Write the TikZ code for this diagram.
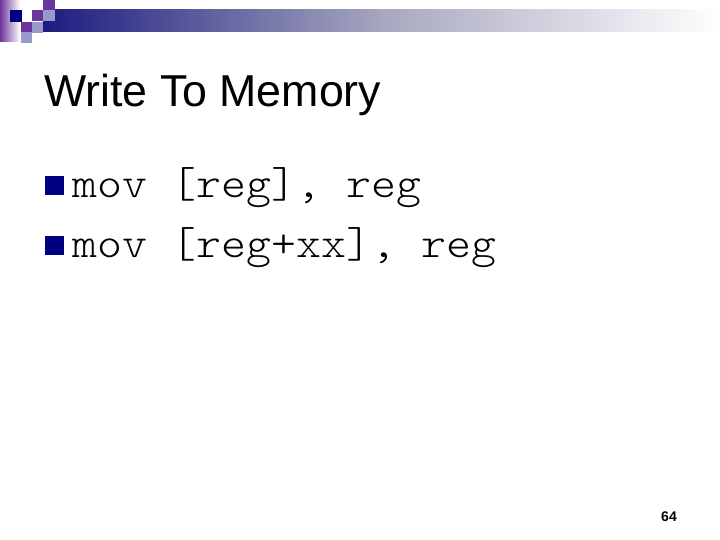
\documentclass[tikz,border=0pt]{standalone}
\usepackage{fontspec}
\setmainfont{Liberation Sans}
\newfontfamily\monof[FakeStretch=1.105]{Latin Modern Mono Light}
\definecolor{navy}{HTML}{000080}
\definecolor{barnavy}{HTML}{1C1C80}
\definecolor{purp}{HTML}{6A359C}
\definecolor{lav}{HTML}{9999CC}
\tikzset{
  x=1pt,y=-1pt,
  sq/.style={draw=none,inner sep=0pt,outer sep=0pt,minimum size=11pt,anchor=north west},
  titletext/.style={anchor=base west,inner sep=0pt,font=\fontsize{44.7}{44.7}\selectfont},
  codetext/.style={anchor=base west,inner sep=0pt,font=\fontsize{43}{43}\selectfont\monof},
  bullet/.style={fill=navy,inner sep=0pt,minimum size=18.5pt,anchor=north west},
  pagenum/.style={anchor=base,inner sep=0pt,font=\fontsize{14}{14}\selectfont\bfseries}
}
\begin{document}
\begin{tikzpicture}
\useasboundingbox (0,0) rectangle (720,540);
\fill[white] (0,0) rectangle (720,540);
\shade[left color=purp,right color=white] (0,0) rectangle (20,42);
\shade[left color=barnavy,right color=white,middle color=barnavy!50!gray!50!white] (43,10) rectangle (720,32);
\node[sq,fill=navy,minimum size=12pt] (s1) at (10,10) {};
\node[sq,fill=purp,minimum width=12pt,minimum height=10pt] (s2) at (43,0) {};
\node[sq,fill=lav,minimum width=12pt] (s3) at (43,10) {};
\node[sq,fill=purp] (s4) at (32,10) {};
\node[sq,fill=purp] (s5) at (21,22) {};
\node[sq,fill=lav] (s6) at (32,22) {};
\node[sq,fill=lav] (s7) at (21,32) {};
\node[titletext] (title) at (44,107) {Write To Memory};
\node[bullet] (b1) at (45,176) {};
\node[codetext] (l1) at (72,198) {mov [reg], reg};
\node[bullet] (b2) at (45,236) {};
\node[codetext] (l2) at (72,258) {mov [reg+xx], reg};
\node[pagenum] (n) at (669,521) {64};
\end{tikzpicture}
\end{document}
